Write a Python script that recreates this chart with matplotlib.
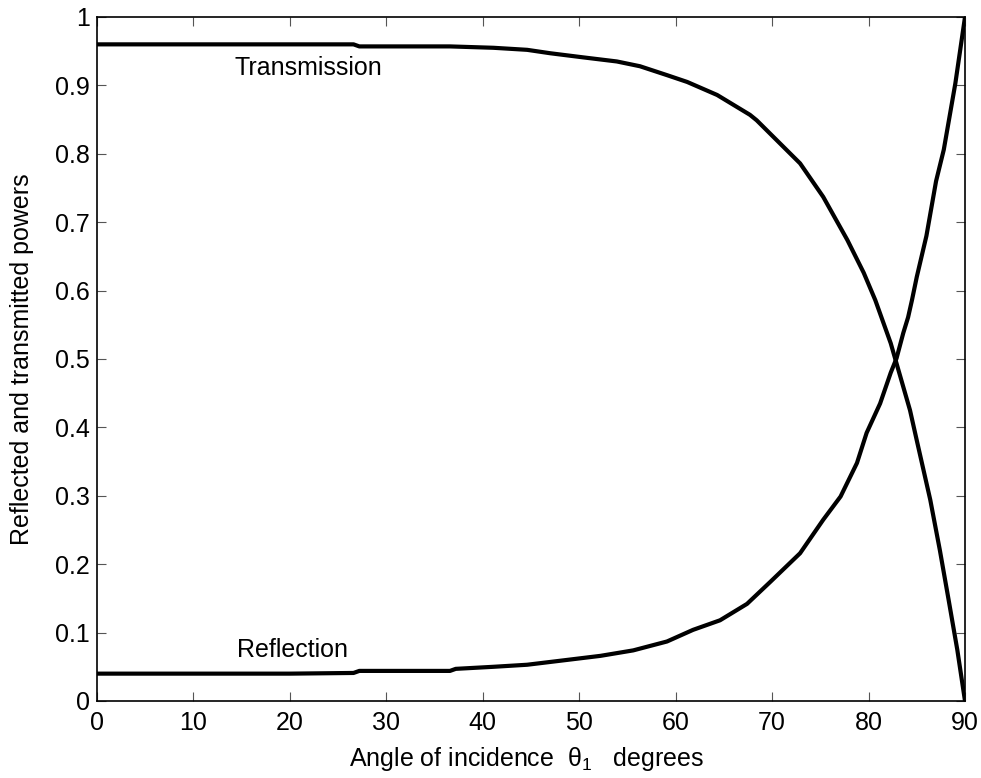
import matplotlib
matplotlib.use('Agg')
import matplotlib.pyplot as plt

plt.rcParams['font.family'] = ['Liberation Sans', 'DejaVu Sans']
plt.rcParams['mathtext.fontset'] = 'custom'
plt.rcParams['mathtext.rm'] = 'Liberation Sans'
plt.rcParams['mathtext.it'] = 'Liberation Sans'

# 反射曲线
refl_angle = [0, 10, 20, 26.6, 27.2, 31.4, 36.6, 37.2, 41.1, 44.6, 48.7, 52.2, 55.6, 59.1,
              61.8, 64.6, 67.4, 69.8, 72.9, 75.3, 77.1, 78.8, 79.8, 81.2, 82.3, 82.9,
              83.6, 84.1, 84.5, 85, 86, 87, 87.8, 89, 90]
refl_power = [0.040, 0.040, 0.040, 0.041, 0.044, 0.044, 0.044, 0.047, 0.050, 0.053, 0.060,
              0.066, 0.074, 0.087, 0.104, 0.118, 0.142, 0.174, 0.216, 0.265, 0.299, 0.348,
              0.392, 0.435, 0.48, 0.501, 0.538, 0.561, 0.586, 0.62, 0.68, 0.76, 0.806,
              0.903, 1.0]

# 透射曲线
trans_angle = [0, 10, 20, 26.6, 27.2, 36.6, 41.1, 44.6, 47, 50.4, 53.9, 56.3, 59.1, 61.2,
               64.3, 67.7, 68.4, 72.9, 75.3, 77.8, 79.5, 80.7, 82.3, 83.3, 84.3, 85,
               86.4, 87.4, 88.3, 89.2, 90]
trans_power = [0.960, 0.960, 0.960, 0.960, 0.957, 0.957, 0.955, 0.952, 0.947, 0.941, 0.935,
               0.928, 0.915, 0.905, 0.886, 0.857, 0.849, 0.786, 0.737, 0.674, 0.626, 0.586,
               0.523, 0.474, 0.425, 0.381, 0.294, 0.22, 0.148, 0.075, 0.0]

x_ticks = list(range(0, 91, 10))
y_ticks = [0, 0.1, 0.2, 0.3, 0.4, 0.5, 0.6, 0.7, 0.8, 0.9, 1]
y_tick_labels = ['0', '0.1', '0.2', '0.3', '0.4', '0.5', '0.6', '0.7', '0.8', '0.9', '1']

fig = plt.figure(figsize=(9.81, 7.78), dpi=100)
ax = fig.add_axes([97 / 981, 1 - 701 / 778, (965 - 97) / 981, (701 - 17) / 778])

ax.plot(trans_angle, trans_power, color='black', linewidth=3)
ax.plot(refl_angle, refl_power, color='black', linewidth=3)

ax.text(21.9, 0.915, 'Transmission', fontsize=18, ha='center', va='baseline')
ax.text(20.3, 0.065, 'Reflection', fontsize=18, ha='center', va='baseline')

ax.set_xlim(0, 90)
ax.set_ylim(0, 1)
ax.set_xticks(x_ticks)
ax.set_yticks(y_ticks)
ax.set_yticklabels(y_tick_labels)
ax.tick_params(direction='in', length=6.5, width=0.8, color='#555555', top=True,
               right=True, labelsize=18)
ax.tick_params(axis='y', pad=5)
ax.tick_params(axis='x', pad=7)
for s in ax.spines.values():
    s.set_linewidth(1.2)

# 坐标轴标题
fig.text(526 / 981, 1 - 766 / 778, r'Angle of incidence  $\theta_1$   degrees',
         fontsize=18, ha='center', va='baseline')
fig.text(22 / 981, 0.5 * (1 - 17 / 778 + 1 - 701 / 778), 'Reflected and transmitted powers',
         fontsize=18, rotation=90, ha='center', va='center')

fig.savefig('out.png', dpi=100)
